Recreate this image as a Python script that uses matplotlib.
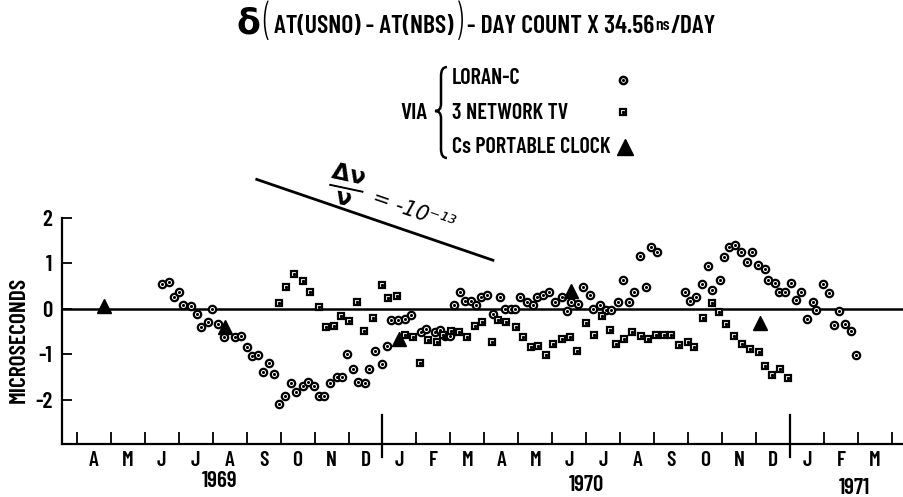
import matplotlib
matplotlib.use('Agg')
import matplotlib.pyplot as plt
from matplotlib.path import Path
from matplotlib.patches import PathPatch
from matplotlib.transforms import blended_transform_factory

plt.rcParams['font.family'] = ['Barlow Condensed', 'DejaVu Sans']
plt.rcParams['font.weight'] = 'semibold'
plt.rcParams['axes.labelweight'] = 'semibold'

# x = months since 1 Jan 1969 (fractional), y = microseconds
loran_month = [5.50, 5.71, 5.85, 6.02, 6.14, 6.35, 6.53, 6.66, 6.85, 6.99, 7.15, 7.33, 7.67, 7.85,
               8.00, 8.15, 8.34, 8.49, 8.67, 8.81, 8.96, 9.13, 9.31, 9.44, 9.65, 9.81, 9.98, 10.14,
               10.28, 10.45, 10.65, 10.82, 10.95, 11.14, 11.29, 11.48, 11.61, 11.79, 11.99, 12.12,
               12.26, 12.46, 12.66, 12.84, 13.12, 13.29, 13.54, 13.69, 13.85, 13.98, 14.10, 14.28,
               14.44, 14.62, 14.76, 14.91, 15.09, 15.25, 15.45, 15.62, 15.77, 15.89, 16.06, 16.25,
               16.43, 16.55, 16.73, 16.90, 17.07, 17.27, 17.43, 17.56, 17.76, 17.89, 18.10, 18.21,
               18.40, 18.57, 18.74, 18.93, 19.08, 19.26, 19.39, 19.59, 19.77, 19.89, 20.08, 20.89,
               21.04, 21.24, 21.40, 21.58, 21.71, 21.94, 22.04, 22.21, 22.38, 22.55, 22.74, 22.87,
               23.05, 23.27, 23.34, 23.56, 23.66, 23.86, 24.03, 24.18, 24.32, 24.49, 24.67, 24.77,
               24.98, 25.14, 25.29, 25.45, 25.60, 25.80, 25.94]
loran_us = [0.55, 0.58, 0.25, 0.36, 0.08, 0.05, -0.12, -0.41, -0.29, -0.01, -0.33, -0.62, -0.62, -0.60,
            -0.84, -1.04, -1.01, -1.40, -1.20, -1.44, -2.10, -1.92, -1.63, -1.83, -1.70, -1.61, -1.70, -1.92,
            -1.92, -1.63, -1.51, -1.50, -1.00, -1.33, -1.62, -1.64, -1.33, -0.93, -1.22, -0.82,
            -0.24, -0.24, -0.22, -0.13, -0.52, -0.44, -0.51, -0.46, -0.60, -0.60, 0.08, 0.36,
            0.17, 0.17, 0.09, 0.27, 0.30, -0.11, 0.27, 0.00, 0.00, 0.00, 0.27, 0.14,
            0.08, 0.27, 0.30, 0.36, 0.16, 0.26, -0.05, 0.15, 0.11, 0.48, 0.30, -0.01,
            0.09, -0.02, -0.03, 0.15, 0.64, 0.15, 0.36, 1.16, 0.47, 1.36, 1.24, 0.36,
            0.17, 0.25, 0.54, 0.94, 0.42, 0.64, 1.15, 1.36, 1.40, 1.26, 1.03, 1.26,
            0.97, 0.87, 0.63, 0.57, 0.36, 0.37, 0.57, 0.19, 0.36, -0.23, 0.16, -0.02,
            0.54, 0.35, -0.35, -0.05, -0.33, -0.49, -1.01]

tv_month = [8.96, 9.16, 9.40, 9.65, 9.88, 10.13, 10.35, 10.58, 10.77, 11.02, 11.26, 11.46, 11.72,
            11.98, 12.16, 12.43, 12.66, 12.90, 13.10, 13.34, 13.61, 13.78, 14.03, 14.25, 14.49,
            14.72, 14.94, 15.21, 15.40, 15.63, 15.94, 16.14, 16.37, 16.58, 16.81, 17.03, 17.27,
            17.52, 17.73, 17.99, 18.22, 18.45, 18.71, 18.88, 19.11, 19.35, 19.60, 19.81, 20.04,
            20.28, 20.50, 20.74, 20.99, 21.17, 21.43, 21.70, 21.90, 22.10, 22.34, 22.59, 22.82,
            23.07, 23.27, 23.46, 23.69, 23.93]
tv_us = [0.13, 0.47, 0.76, 0.61, 0.37, 0.04, -0.41, -0.38, -0.16, -0.27, 0.16, -0.49, -0.20,
         0.53, 0.24, 0.29, -0.58, -0.63, -1.19, -0.68, -0.73, -0.58, -0.49, -0.51, -0.63,
         -0.38, -0.30, -0.73, -0.25, -0.29, -0.40, -0.63, -0.84, -0.82, -1.02, -0.77, -0.67,
         -0.62, -0.93, -0.31, -0.57, -0.16, -0.47, -0.78, -0.66, -0.51, -0.60, -0.66, -0.57,
         -0.57, -0.57, -0.80, -0.73, -0.84, -0.20, 0.13, -0.08, -0.33, -0.60, -0.77, -0.88,
         -0.96, -1.26, -1.45, -1.33, -1.52]

clock_month = [3.81, 7.36, 12.48, 17.56, 23.10]
clock_us = [0.05, -0.40, -0.67, 0.39, -0.31]

month_labels = ['A', 'M', 'J', 'J', 'A', 'S', 'O', 'N', 'D',
                'J', 'F', 'M', 'A', 'M', 'J', 'J', 'A', 'S', 'O', 'N', 'D',
                'J', 'F', 'M']
first_month = 3          # April 1969
year_boundaries = [12, 24]
year_labels = ['1969', '1970', '1971']
year_label_x = [7.2, 18.0, 25.9]
y_ticks = [-2, -1, 0, 1, 2]
y_tick_labels = ['-2', '-1', '0', '1', '2']
slope_x = [8.30, 15.25]
slope_y = [2.85, 1.07]

W, H = 904, 497
fig = plt.figure(figsize=(W / 100, H / 100), dpi=100)
ax = fig.add_axes([62 / W, (H - 444) / H, (W - 62) / W, (444 - 218) / H])
ax.set_xlim(2.567, 27.35)
ax.set_ylim(-2.98, 2.0)
for s in ['top', 'right']:
    ax.spines[s].set_visible(False)
for s in ['left', 'bottom']:
    ax.spines[s].set_linewidth(1.6)

major = list(range(first_month, first_month + len(month_labels) + 1))
ax.set_xticks(major)
ax.set_xticklabels([])
ax.set_xticks([m + 0.5 for m in range(first_month, first_month + len(month_labels))], minor=True)
ax.set_xticklabels(month_labels, minor=True, fontsize=15.5)
ax.tick_params(axis='x', which='major', direction='in', length=9, width=1.3)
ax.tick_params(axis='x', which='minor', length=0, pad=5)
ax.set_yticks(y_ticks)
ax.set_yticklabels(y_tick_labels, fontsize=16.5)
ax.tick_params(axis='y', direction='in', length=7, width=1.3, pad=7)

ax.axhline(0, color='black', lw=1.8, zorder=1)
bt = blended_transform_factory(ax.transData, ax.transAxes)
for m in year_boundaries:
    ax.plot([m, m], [-0.058, 0.128], color='black', lw=1.6, transform=bt, clip_on=False)
yl_y = [-0.163, -0.182, -0.193]
for lab, xx, yy in zip(year_labels, year_label_x, yl_y):
    ax.text(xx, yy, lab, transform=bt, ha='center', va='center', fontsize=16.5)

ax.plot(loran_month, loran_us, 'o', ms=5.3, mfc='white', mec='black', mew=1.6, ls='none', zorder=3)
ax.plot(loran_month, loran_us, 'o', ms=1.2, color='black', ls='none', zorder=4)
ax.plot(tv_month, tv_us, 's', ms=5.0, mfc='white', mec='black', mew=1.6, ls='none', zorder=3)
ax.plot(tv_month, tv_us, 's', ms=1.2, color='black', ls='none', zorder=4)
ax.plot(clock_month, clock_us, '^', ms=10, color='black', ls='none', zorder=5)

ax.plot(slope_x, slope_y, color='black', lw=2.0, clip_on=False)

ax.set_ylabel('MICROSECONDS', fontsize=17, fontweight='semibold')
ax.yaxis.set_label_coords((29 - 62) / (W - 62), (444 - 340) / 226)

# overlay in pixel coordinates for annotations
ov = fig.add_axes([0, 0, 1, 1])
ov.set_xlim(0, W)
ov.set_ylim(H, 0)
ov.axis('off')
ov.patch.set_alpha(0)

# title built from pieces
renderer = fig.canvas.get_renderer()
pieces = [('δ', 25, 'bold', 'baseline', 34, 3),
          ('(', 33, 'light', 'center', 24, 3),
          ('AT(USNO) - AT(NBS)', 18.5, 'semibold', 'baseline', 33, 2),
          (')', 33, 'light', 'center', 24, 4),
          ('- DAY COUNT X 34.56', 18.5, 'semibold', 'baseline', 33, 1),
          ('ns', 12.5, 'semibold', 'baseline', 29.5, 1),
          ('/DAY', 18.5, 'semibold', 'baseline', 33, 0)]
texts = []
x = 0
for txt, fs, fw, va, yy, gap in pieces:
    t = ov.text(x, yy, txt, fontsize=fs, fontweight=fw, va=va, ha='left')
    bb = t.get_window_extent(renderer)
    texts.append((t, x))
    x += bb.width + gap
start = 476 - x / 2
for t, x0 in texts:
    t.set_x(start + x0)

# legend
ov.text(400, 113, 'VIA', fontsize=17, va='center', ha='left')
verts = [(447, 67), (441, 67), (441, 76), (441, 104), (441, 111), (435, 111),
         (441, 111), (441, 118), (441, 149), (441, 158), (447, 158)]
codes = [Path.MOVETO, Path.CURVE3, Path.CURVE3, Path.LINETO, Path.CURVE3, Path.CURVE3,
         Path.CURVE3, Path.CURVE3, Path.LINETO, Path.CURVE3, Path.CURVE3]
ov.add_patch(PathPatch(Path(verts, codes), fill=False, lw=1.8, color='black'))
leg_names = ['LORAN-C', '3 NETWORK TV', 'Cs PORTABLE CLOCK']
leg_y = [78, 113, 147]
for name, yy in zip(leg_names, leg_y):
    ov.text(452, yy, name, fontsize=16, va='center', ha='left')
ov.plot([623], [80], 'o', ms=5.2, mfc='white', mec='black', mew=1.8)
ov.plot([623], [80], 'o', ms=1.2, color='black')
ov.plot([623], [112], 's', ms=5.0, mfc='white', mec='black', mew=1.6)
ov.plot([623], [112], 's', ms=1.2, color='black')
ov.plot([625], [147], '^', ms=11, color='black')

# slope annotation
ov.text(346, 186, r'$\frac{\mathbf{\Delta\nu}}{\mathbf{\nu}}$', fontsize=24, rotation=-12,
        ha='center', va='center')
ov.text(414, 211, '= -10⁻¹³', fontsize=15, style='italic', rotation=-19,
        ha='center', va='center', fontweight='normal', family=['DejaVu Sans'])

fig.savefig('out.png', dpi=100)
